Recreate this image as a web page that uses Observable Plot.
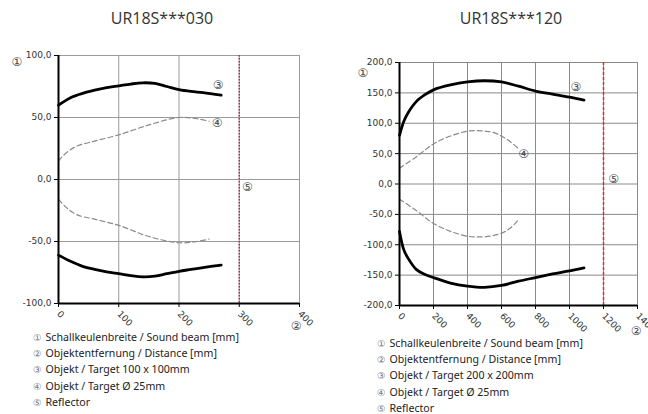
<!DOCTYPE html>
<html>
<head>
<meta charset="utf-8">
<script src="https://cdn.jsdelivr.net/npm/d3@7"></script>
<script src="https://cdn.jsdelivr.net/npm/@observablehq/plot@0.6"></script>
<style>
  html, body { margin: 0; padding: 0; background: #fff; }
  body { width: 648px; height: 414px; position: relative; overflow: hidden; font-family: "Noto Sans", "DejaVu Sans", sans-serif; }
  .title { position: absolute; top: 7px; font-family: "Open Sans", sans-serif; font-size: 16px; color: #333; text-align: center; width: 200px; }
  .panel { position: absolute; top: 40px; }
  .legend { position: absolute; font-size: 10.6px; line-height: 16px; color: #222; white-space: nowrap; }
  .legend div { height: 16.2px; }
  .legend .n { color: #777; font-size: 9.5px; margin-right: 4px; line-height: 10px; }
</style>
</head>
<body>
<div class="title" id="t1" style="left:62px">UR18S***030</div>
<div class="title" id="t2" style="left:411px">UR18S***120</div>
<div class="panel" id="p1" style="left:0px"></div>
<div class="panel" id="p2" style="left:324px"></div>
<div class="legend" id="l1" style="left:33px; top:329px"></div>
<div class="legend" id="l2" style="left:377px; top:335px"></div>
<script>
// ---------- Data: UR18S***030 ----------
const leftXTicks = [0, 100, 200, 300, 400];
const leftYTicks = [-100, -50, 0, 50, 100];
const leftReflector = [300];
const leftSolidX = [0, 20, 40, 60, 80, 100, 120, 140, 160, 180, 200, 220, 240, 270];
const leftSolidUpper = [60, 66, 69.5, 72, 74, 75.5, 77, 78, 77.5, 75, 72.5, 71, 70, 68];
const leftSolidLower = [-61, -66, -70, -72.5, -74.5, -76, -77.5, -78.5, -78, -76, -74, -72.5, -71, -69];
const leftDashX = [0, 14, 31, 60, 100, 150, 200, 230, 250];
const leftDashUpper = [15, 22, 27, 31, 36, 44, 50, 49, 47];
const leftDashLower = [-16, -23, -28.5, -32, -37, -46, -51, -50, -48];
const leftLegend = ["Schallkeulenbreite / Sound beam [mm]", "Objektentfernung / Distance [mm]", "Objekt / Target 100 x 100mm", "Objekt / Target Ø 25mm", "Reflector"];

// ---------- Data: UR18S***120 ----------
const rightXTicks = [0, 200, 400, 600, 800, 1000, 1200, 1400];
const rightYTicks = [-200, -150, -100, -50, 0, 50, 100, 150, 200];
const rightReflector = [1200];
const rightSolidX = [0, 25, 50, 100, 150, 200, 300, 400, 500, 600, 700, 800, 900, 1000, 1085];
const rightSolidUpper = [80, 103, 117, 136, 147, 155, 163, 168, 170, 168, 161, 153, 148, 143, 138];
const rightSolidLower = [-78, -108, -122, -141, -149, -154, -163, -168, -170, -167, -160, -154, -148, -143, -138];
const rightDashX = [0, 100, 200, 300, 400, 450, 500, 550, 600, 650, 700];
const rightDashUpper = [26, 45, 66, 79, 87, 88, 87, 85, 79, 70, 58];
const rightDashLower = [-25, -44, -65, -78, -86, -87, -87, -85, -81, -73, -59];
const rightLegend = ["Schallkeulenbreite / Sound beam [mm]", "Objektentfernung / Distance [mm]", "Objekt / Target 200 x 200mm", "Objekt / Target Ø 25mm", "Reflector"];

const circled = ["①", "②", "③", "④", "⑤"];

const fmt = d => d.toFixed(1).replace(".", ",");
const pts = (xs, ys) => xs.map((x, i) => ({x, y: ys[i]}));
const last = (xs, ys, t) => [{x: xs[xs.length - 1], y: ys[ys.length - 1], t}];

function panel(c) {
  const xMin = c.xTicks[0], xMax = c.xTicks[c.xTicks.length - 1];
  const yMin = c.yTicks[0], yMax = c.yTicks[c.yTicks.length - 1];
  return Plot.plot({
    width: 324, height: 300,
    marginLeft: c.ml, marginRight: c.mr, marginTop: c.mt, marginBottom: c.mb,
    style: {fontFamily: "'DejaVu Sans', sans-serif", fontSize: "9px", color: "#333", background: "transparent", overflow: "visible"},
    x: {domain: [xMin, xMax]},
    y: {domain: [yMin, yMax]},
    marks: [
      Plot.ruleX(c.xTicks.slice(1), {stroke: c.grid, strokeWidth: 1}),
      Plot.ruleY(c.yTicks.slice(1), {stroke: c.grid, strokeWidth: 1}),
      Plot.ruleX(c.reflector, {stroke: c.red, strokeWidth: 1.5, strokeDasharray: c.redDash}),
      Plot.line(pts(c.dashX, c.dashUpper), {x: "x", y: "y", curve: "catmull-rom", stroke: "#8a8a8a", strokeWidth: 1.2, strokeDasharray: "5,3"}),
      Plot.line(pts(c.dashX, c.dashLower), {x: "x", y: "y", curve: "catmull-rom", stroke: "#8a8a8a", strokeWidth: 1.2, strokeDasharray: "5,3"}),
      Plot.line(pts(c.solidX, c.solidUpper), {x: "x", y: "y", curve: "catmull-rom", stroke: "#000", strokeWidth: 2.8}),
      Plot.line(pts(c.solidX, c.solidLower), {x: "x", y: "y", curve: "catmull-rom", stroke: "#000", strokeWidth: 2.8}),
      Plot.ruleX([xMin], {stroke: "#000", strokeWidth: 2}),
      Plot.ruleY([yMin], {stroke: "#000", strokeWidth: 2}),
      Plot.axisY({ticks: c.yTicks, tickFormat: fmt, tickSize: 4, tickPadding: 3, stroke: "#000", label: null}),
      Plot.axisX({ticks: c.xTicks, tickFormat: d => String(d), tickSize: 4, tickPadding: 5, tickRotate: 45, stroke: "#000", label: null}),
      Plot.text(last(c.solidX, c.solidUpper, circled[2]), {x: "x", y: "y", text: "t", dx: c.l3[0], dy: c.l3[1], fontSize: 12, fill: "#444"}),
      Plot.text(last(c.dashX, c.dashUpper, circled[3]), {x: "x", y: "y", text: "t", dx: c.l4[0], dy: c.l4[1], fontSize: 12, fill: "#444"}),
      Plot.text(c.reflector.map(x => ({x, y: 0, t: circled[4]})), {x: "x", y: "y", text: "t", dx: c.l5[0], dy: c.l5[1], fontSize: 12, fill: "#444"}),
      Plot.text([circled[0]], {frameAnchor: "top-left", dx: c.l1[0], dy: c.l1[1], fontSize: 12, fill: "#444"}),
      Plot.text([circled[1]], {frameAnchor: "bottom-right", dx: c.l2[0], dy: c.l2[1], fontSize: 12, fill: "#444"})
    ]
  });
}

document.getElementById("p1").appendChild(panel({
  xTicks: leftXTicks, yTicks: leftYTicks, reflector: leftReflector,
  solidX: leftSolidX, solidUpper: leftSolidUpper, solidLower: leftSolidLower,
  dashX: leftDashX, dashUpper: leftDashUpper, dashLower: leftDashLower,
  ml: 58, mr: 25, mt: 15, mb: 37,
  grid: "#9a9a9a", red: "#a83848", redDash: "1.5,1.5",
  l3: [-3, -10], l4: [8, 2], l5: [8, 8], l1: [-47, 2], l2: [2, 26]
}));

document.getElementById("p2").appendChild(panel({
  xTicks: rightXTicks, yTicks: rightYTicks, reflector: rightReflector,
  solidX: rightSolidX, solidUpper: rightSolidUpper, solidLower: rightSolidLower,
  dashX: rightDashX, dashUpper: rightDashUpper, dashLower: rightDashLower,
  ml: 75, mr: 11, mt: 22, mb: 35,
  grid: "#8a8a8a", red: "#e82828", redDash: "3,2",
  l3: [-8, -13], l4: [5, 5], l5: [10, -5], l1: [-42, 6], l2: [4, 29]
}));

function legend(id, items) {
  const el = document.getElementById(id);
  items.forEach((t, i) => {
    const d = document.createElement("div");
    const n = document.createElement("span");
    n.className = "n"; n.textContent = circled[i];
    d.appendChild(n);
    d.appendChild(document.createTextNode(t));
    el.appendChild(d);
  });
}
legend("l1", leftLegend);
legend("l2", rightLegend);
</script>
</body>
</html>
